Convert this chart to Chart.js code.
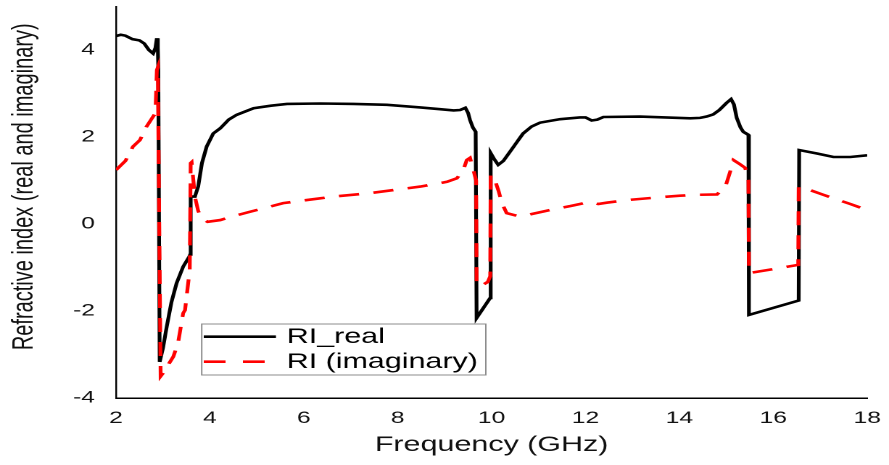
<!DOCTYPE html>
<html>
<head>
<meta charset="utf-8">
<script src="https://cdn.jsdelivr.net/npm/chart.js@4.4.1/dist/chart.umd.min.js"></script>
<style>
  html, body { margin: 0; padding: 0; background: #fff; overflow: hidden; }
  #wrap { width: 613px; height: 465px; transform: scaleX(1.4502); transform-origin: 0 0; }
</style>
</head>
<body>
<div id="wrap"><canvas id="c" width="613" height="465"></canvas></div>
<script>
// ---- data ----
const freqReal = [2.00, 2.10, 2.20, 2.35, 2.50, 2.60, 2.70, 2.79, 2.84, 2.87, 2.89, 2.90, 2.93, 3.00, 3.08, 3.18, 3.29, 3.43, 3.56, 3.58,
  3.59, 3.68, 3.75, 3.83, 3.93, 4.07, 4.22, 4.40, 4.57, 4.93, 5.30, 5.64, 6.35, 7.06, 7.77, 8.48, 8.90, 9.19, 9.33, 9.44,
  9.50, 9.54, 9.60, 9.66, 9.68, 9.97, 9.98, 10.05, 10.14, 10.25, 10.39, 10.55, 10.67, 10.85, 11.03, 11.46, 11.88, 12.00, 12.13, 12.25,
  12.38, 13.16, 14.23, 14.44, 14.58, 14.72, 14.85, 15.00, 15.10, 15.16, 15.22, 15.30, 15.36, 15.47, 15.48, 16.54, 16.55, 16.93, 17.28, 17.64, 18.00];
const realValues = [4.32, 4.35, 4.33, 4.25, 4.22, 4.15, 4.00, 3.92, 4.05, 4.27, 4.05, 3.60, -3.17, -2.85, -2.36, -1.80, -1.36, -0.98, -0.75, -0.70,
  0.63, 0.63, 0.86, 1.40, 1.78, 2.08, 2.20, 2.40, 2.51, 2.66, 2.72, 2.76, 2.77, 2.76, 2.74, 2.68, 2.64, 2.61, 2.62, 2.67,
  2.55, 2.39, 2.22, 2.12, -2.16, -1.70, 1.63, 1.50, 1.36, 1.45, 1.66, 1.90, 2.08, 2.24, 2.33, 2.41, 2.45, 2.45, 2.38, 2.40,
  2.46, 2.47, 2.43, 2.44, 2.47, 2.52, 2.62, 2.78, 2.87, 2.75, 2.44, 2.22, 2.12, 2.05, -2.09, -1.76, 1.70, 1.62, 1.54, 1.54, 1.58];

const freqImag = [2.00, 2.20, 2.36, 2.51, 2.65, 2.79, 2.84, 2.87, 2.89, 2.95, 3.00, 3.22, 3.32, 3.43, 3.47, 3.57, 3.59, 3.61, 3.68, 3.75,
  3.83, 3.95, 4.22, 4.50, 4.85, 5.28, 5.56, 6.35, 6.63, 7.41, 8.48, 8.90, 9.05, 9.26, 9.40, 9.47, 9.54, 9.60, 9.67, 9.68,
  9.75, 9.92, 9.97, 9.98, 10.07, 10.15, 10.22, 10.32, 10.60, 11.24, 11.67, 12.10, 12.27, 12.45, 12.88, 13.52, 14.01, 14.33, 14.80, 14.98,
  15.08, 15.15, 15.28, 15.40, 15.47, 15.48, 16.53, 16.54, 16.78, 17.07, 17.28, 17.64, 18.00];
const imagValues = [1.24, 1.45, 1.78, 1.93, 2.24, 2.47, 2.55, 3.54, 3.60, -3.50, -3.43, -3.05, -2.74, -2.05, -1.98, -1.05, 1.40, 1.42, 0.63, 0.30,
  0.13, 0.05, 0.09, 0.18, 0.28, 0.40, 0.48, 0.59, 0.63, 0.71, 0.86, 0.94, 0.97, 1.05, 1.25, 1.47, 1.52, 1.29, 1.00, -1.36,
  -1.44, -1.33, -1.20, 1.13, 1.01, 0.75, 0.48, 0.25, 0.17, 0.32, 0.41, 0.51, 0.46, 0.49, 0.55, 0.61, 0.65, 0.67, 0.68, 0.86,
  1.20, 1.47, 1.38, 1.29, 1.00, -1.13, -0.94, 0.86, 0.78, 0.67, 0.59, 0.46, 0.32];

const seriesLabels = ['RI_real', 'RI (imaginary)'];
const xTicks = [2, 4, 6, 8, 10, 12, 14, 16, 18];
const yTicks = [-4, -2, 0, 2, 4];
const xTitle = 'Frequency (GHz)';
const yTitle = 'Refractive index (real and imaginary)';

// ---- chart ----
const FONT = "'Liberation Sans', Arial, sans-serif";
const toPoints = (xs, ys) => xs.map((x, i) => ({ x: x, y: ys[i] }));

const yTitleShift = {
  id: 'yTitleShift',
  beforeDraw(chart) {
    const s = chart.scales.y;
    if (s && !s.__shifted) {
      const orig = s.drawTitle;
      s.drawTitle = function () {
        const ctx = this.ctx;
        ctx.save();
        ctx.translate(0, -15.5);
        orig.call(this);
        ctx.restore();
      };
      s.__shifted = true;
    }
  }
};

const boxLegend = {
  id: 'boxLegend',
  afterDraw(chart) {
    const ctx = chart.ctx;
    const ds = chart.data.datasets;
    const L = 139.1, R = 335, T = 324, B = 375;
    ctx.save();
    ctx.fillStyle = '#fff';
    ctx.fillRect(L, T, R - L, B - T);
    ctx.strokeStyle = '#8c8c8c';
    ctx.lineWidth = 1;
    ctx.strokeRect(L, T, R - L, B - T);
    const rows = [336.7, 361.7];
    ds.forEach((d, i) => {
      const y = rows[i];
      ctx.beginPath();
      ctx.strokeStyle = d.borderColor;
      ctx.lineWidth = d.borderWidth;
      ctx.setLineDash(i === 1 ? [15, 12] : []);
      ctx.moveTo(140.5, y);
      ctx.lineTo(190.3, y);
      ctx.stroke();
      ctx.setLineDash([]);
      ctx.fillStyle = '#000';
      ctx.font = '21px ' + FONT;
      ctx.textAlign = 'left';
      ctx.textBaseline = 'middle';
      ctx.fillText(d.label, 197.7, y + 0.5);
    });
    ctx.restore();
  }
};

new Chart(document.getElementById('c'), {
  type: 'line',
  data: {
    datasets: [
      {
        label: seriesLabels[0],
        data: toPoints(freqReal, realValues),
        borderColor: '#000000',
        borderWidth: 2.6,
        pointRadius: 0,
        tension: 0,
        fill: false,
        order: 2
      },
      {
        label: seriesLabels[1],
        data: toPoints(freqImag, imagValues),
        borderColor: '#ff0000',
        borderWidth: 2.6,
        borderDash: [14, 10],
        pointRadius: 0,
        tension: 0,
        fill: false,
        order: 1
      }
    ]
  },
  options: {
    responsive: false,
    animation: false,
    devicePixelRatio: 2,
    layout: { padding: { top: 6.5, right: 15, left: 0, bottom: 0 } },
    plugins: { legend: { display: false }, tooltip: { enabled: false } },
    scales: {
      x: {
        type: 'linear',
        min: 2, max: 18,
        afterBuildTicks: (s) => { s.ticks = xTicks.map(v => ({ value: v })); },
        afterFit: (s) => { s.height = 67; s.paddingLeft = 0; s.paddingRight = 0; },
        grid: { display: false, drawTicks: false },
        border: { display: true, color: '#000', width: 1.5 },
        ticks: { padding: 10, color: '#111', font: { family: FONT, size: 17 }, maxRotation: 0 },
        title: { display: true, text: xTitle, color: '#111', font: { family: FONT, size: 21 }, padding: { top: 0, bottom: 7.4 } }
      },
      y: {
        type: 'linear',
        min: -4, max: 5,
        afterBuildTicks: (s) => { s.ticks = yTicks.map(v => ({ value: v })); },
        afterFit: (s) => { s.width = 80; s.paddingTop = 0; s.paddingBottom = 0; },
        grid: { display: false, drawTicks: false },
        border: { display: true, color: '#000', width: 1.2 },
        ticks: { padding: 14.5, color: '#111', font: { family: FONT, size: 17 } },
        title: { display: true, text: yTitle, color: '#111', font: { family: FONT, size: 20 }, padding: { top: 5.2, bottom: 0 } }
      }
    }
  },
  plugins: [yTitleShift, boxLegend]
});
</script>
</body>
</html>
